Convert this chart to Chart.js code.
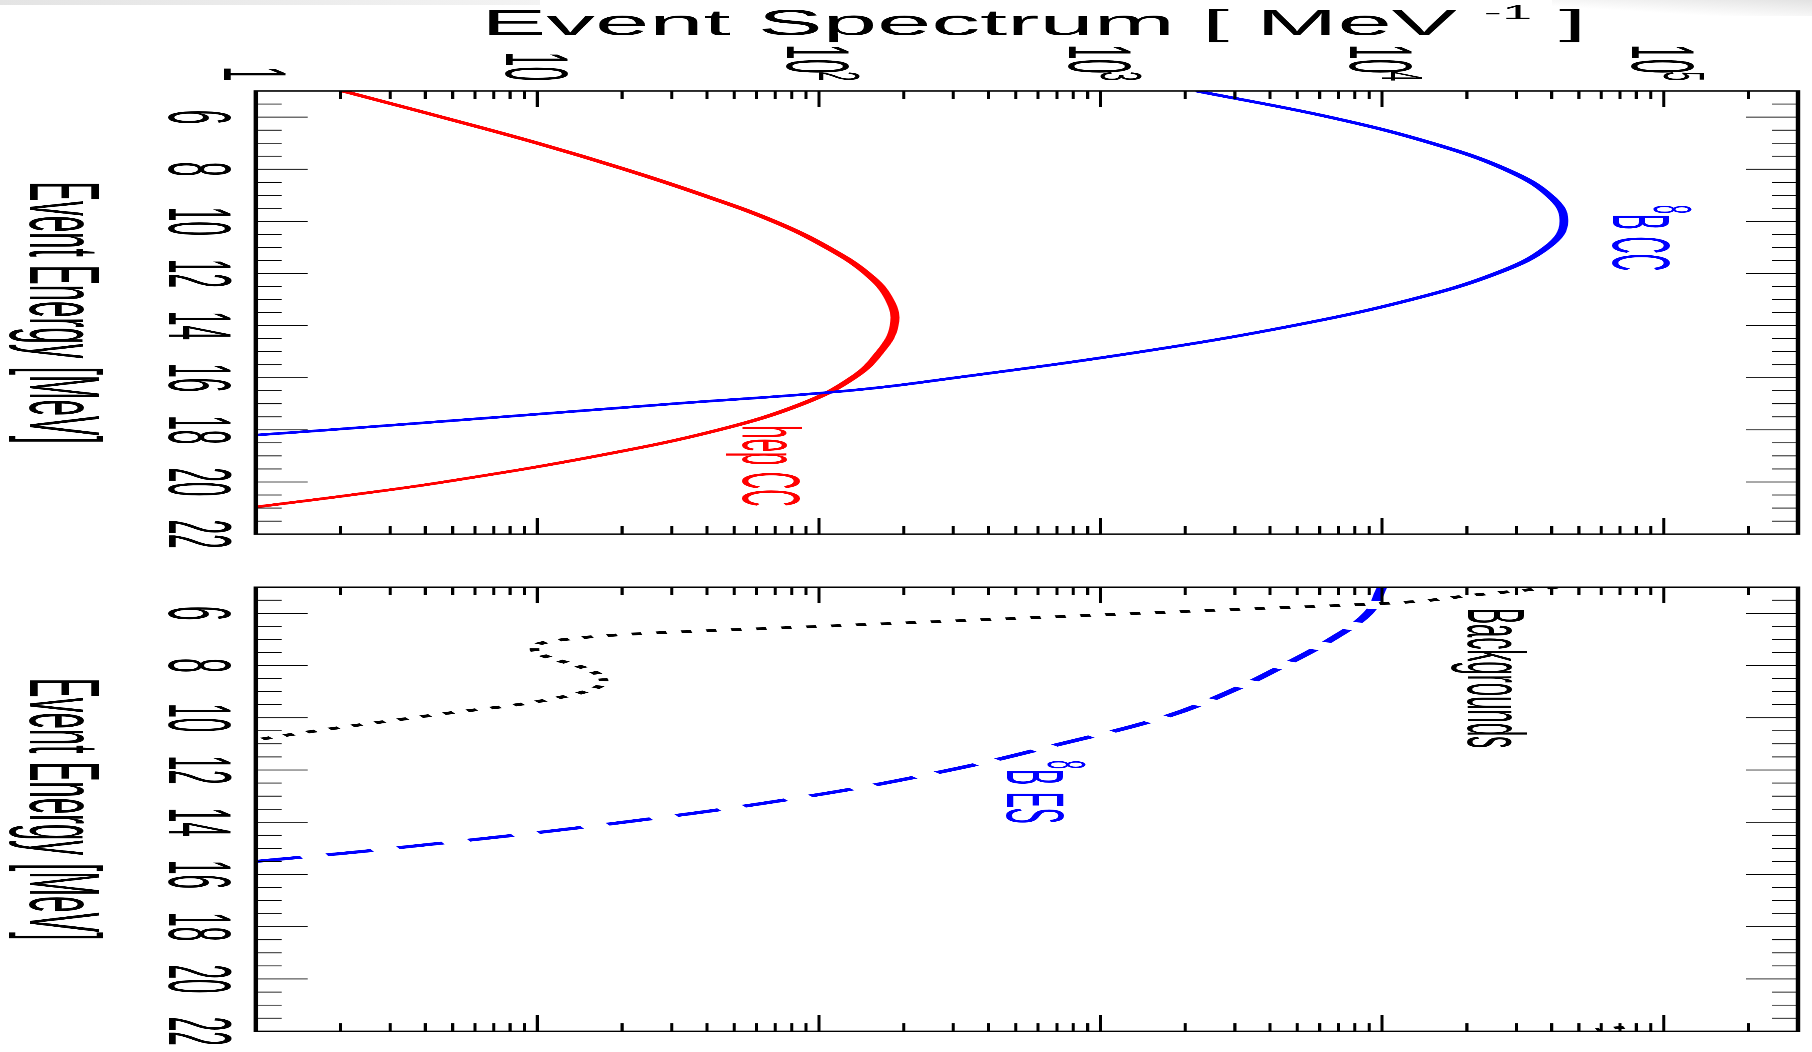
<!DOCTYPE html>
<html>
<head>
<meta charset="utf-8">
<title>Event spectra</title>
<script src="https://cdn.jsdelivr.net/npm/chart.js@4.4.1/dist/chart.umd.min.js"></script>
<style>
  html, body { margin: 0; padding: 0; background: #fff; overflow: hidden; }
  body { width: 1812px; height: 1052px; position: relative; }
  /* the plot is laid out portrait, squeezed, then turned onto its side */
  #stage {
    position: absolute; left: 0; top: 0;
    width: 1052px; height: 533px;
    transform-origin: 0 0;
    transform: translate(1812px, 0) rotate(90deg) scale(1, 3.39962);
  }
  #stage canvas { position: absolute; left: 0; top: 0; }
  .shade { position: absolute; pointer-events: none; }
</style>
</head>
<body>
<div class="shade" style="left:0;top:0;width:540px;height:5px;background:linear-gradient(to right,#e4e4e4,#f3f3f3);"></div>
<div class="shade" style="right:0;top:0;width:260px;height:16px;background:linear-gradient(to bottom left,#e2e2e2,rgba(255,255,255,0) 70%);"></div>
<div id="stage">
  <canvas id="ccPanel" width="1052" height="533"></canvas>
  <canvas id="esPanel" width="1052" height="533"></canvas>
</div>
<script>
// Axis ranges and tick labels
const energyRange = [5, 22];
const spectrumRange = [1, 3e5];
const energyTickLabels = [6, 8, 10, 12, 14, 16, 18, 20, 22];
const spectrumTicks = [1, 10, 100, 1000, 10000, 100000];
const spectrumTickLabels = ['1', '10', '10^2', '10^3', '10^4', '10^5'];

// 8B charged current
const b8ccEnergy = [5, 6, 7, 8, 9, 10, 11, 12, 13, 14, 15, 16, 16.5, 17, 17.5, 18, 18.2];
const b8ccRate = [2200, 6500, 15000, 27400, 39200, 44200, 38500, 25400, 12700, 4840, 1400, 305, 126, 30.2, 7.52, 1.82, 1];

// hep charged current
const hepEnergy = [5, 6, 7, 8, 9, 10, 11, 12, 13, 14, 15, 16, 17, 18, 19, 20, 20.5, 20.96];
const hepRate = [2.04, 4.57, 10.0, 20.4, 38.9, 69.2, 107, 148, 178, 185, 165, 132, 87.3, 44.1, 16.3, 4.65, 2.17, 1];

// 8B elastic scattering
const b8esEnergy = [5, 6, 7, 8, 9, 10, 11, 12, 13, 14, 15, 15.5];
const b8esRate = [10000, 8910, 6610, 4470, 2880, 1660, 724, 292, 92.3, 20.2, 3.05, 1];

// backgrounds (null breaks the line)
const bkgEnergy = [5.0, 5.3, 5.6, 5.9, 6.2, 6.5, 6.8, 7.0, 7.2, 7.4, 7.7, 8.0, 8.3, 8.6, 8.9, 9.2, 9.5, 9.8, 10.1, 10.4, 10.7, 10.85, 15, 21.85, 21.93];
const bkgRate = [41700, 21400, 11200, 2340, 490, 102, 21.4, 12.6, 10.0, 9.77, 11.0, 13.8, 16.2, 17.2, 15.8, 12.3, 8.51, 5.01, 3.09, 1.91, 1.23, 1, null, 72400, 57500];

const RED = '#ff0000';
const BLUE = '#0000ff';
const FONT = '"Liberation Sans", Arial, Helvetica, sans-serif';
const STRETCH = 1812 / 533;

function font(size) {
  return size + 'px ' + FONT;
}

function series(energy, rate) {
  return energy.map((e, i) => ({ x: e, y: rate[i] }));
}

// frame, inside ticks, tick labels, titles and curve names
const panelDecor = {
  id: 'panelDecor',
  afterDatasetsDraw(chart, args, opts) {
    const { ctx, chartArea: area, scales: { x, y } } = chart;
    ctx.save();
    ctx.strokeStyle = '#000';
    ctx.fillStyle = '#000';

    ctx.lineWidth = 0.9;
    ctx.beginPath();
    for (let e = 5.5; e < 22; e += 0.5) {
      const px = x.getPixelForValue(e);
      const len = e % 2 === 0 ? 15.3 : 7.65;
      ctx.moveTo(px, area.bottom);
      ctx.lineTo(px, area.bottom - len);
      ctx.moveTo(px, area.top);
      ctx.lineTo(px, area.top + len);
    }
    for (let n = 0; n <= 5; n++) {
      for (let m = 1; m <= 9; m++) {
        const v = m * Math.pow(10, n);
        if (v <= spectrumRange[0] || v >= spectrumRange[1]) continue;
        const py = y.getPixelForValue(v);
        const len = m === 1 ? 16 : 8;
        ctx.moveTo(area.left, py);
        ctx.lineTo(area.left + len, py);
        ctx.moveTo(area.right, py);
        ctx.lineTo(area.right - len, py);
      }
    }
    ctx.stroke();

    ctx.lineWidth = 1.3;
    ctx.strokeRect(area.left, area.top, area.right - area.left, area.bottom - area.top);

    // energy axis
    ctx.textBaseline = 'alphabetic';
    ctx.textAlign = 'center';
    ctx.font = font(26);
    energyTickLabels.forEach(e => {
      ctx.fillText(String(e), x.getPixelForValue(e), area.bottom + 25.4);
    });
    ctx.font = font(29.5);
    ctx.fillText('Event Energy [MeV]', (area.left + area.right) / 2, area.bottom + 66.4);

    if (opts.spectrumAxis) {
      ctx.textAlign = 'left';
      const right = area.left - 10;
      spectrumTicks.forEach((v, i) => {
        const [base, sup] = spectrumTickLabels[i].split('^');
        const py = y.getPixelForValue(v);
        ctx.font = font(17);
        const sw = sup ? ctx.measureText(sup).width : 0;
        ctx.font = font(26);
        const bw = ctx.measureText(base).width;
        const bx = sup ? right - sw + 2 - bw : right - bw;
        ctx.fillText(base, bx, py + 9.3);
        if (sup) {
          ctx.font = font(17);
          ctx.fillText(sup, right - sw, py);
        }
      });

      // rotated spectrum title, fitted to its length
      const parts = [
        { t: 'Event Spectrum [ MeV ', size: 36, rise: 0 },
        { t: '-1', size: 20, rise: -16 },
        { t: ' ]', size: 36, rise: 0 }
      ];
      let total = 0;
      parts.forEach(p => { ctx.font = font(p.size); p.w = ctx.measureText(p.t).width; total += p.w; });
      ctx.save();
      ctx.translate(35, (area.top + area.bottom) / 2 - 2);
      ctx.rotate(-Math.PI / 2);
      ctx.scale(325 / total, 1);
      let tx = -total / 2;
      parts.forEach(p => {
        ctx.font = font(p.size);
        ctx.fillText(p.t, tx, p.rise);
        tx += p.w;
      });
      ctx.restore();
    }

    (opts.labels || []).forEach(l => {
      let px = x.getPixelForValue(l.e);
      const py = y.getPixelForValue(l.v);
      ctx.fillStyle = l.color;
      ctx.textAlign = 'left';
      if (l.sup) {
        ctx.font = font(15.6);
        ctx.fillText(l.sup, px, py - 12);
        px += ctx.measureText(l.sup).width;
      }
      ctx.font = font(24);
      ctx.fillText(l.text, px, py);
    });
    ctx.restore();
  }
};

function makePanel(id, datasets, padding, decor) {
  return new Chart(document.getElementById(id), {
    type: 'line',
    data: { datasets: datasets },
    options: {
      responsive: false,
      animation: false,
      devicePixelRatio: 3.4,
      layout: { padding: padding },
      elements: { point: { radius: 0 }, line: { fill: false, tension: 0.4 } },
      plugins: {
        legend: { display: false },
        tooltip: { enabled: false },
        panelDecor: decor
      },
      scales: {
        x: { type: 'linear', min: energyRange[0], max: energyRange[1], display: false },
        y: { type: 'logarithmic', min: spectrumRange[0], max: spectrumRange[1], display: false }
      }
    },
    plugins: [panelDecor]
  });
}

const padTop = 14 / STRETCH;
const padBottom = 533 - 1556 / STRETCH;

document.addEventListener('DOMContentLoaded', function () {
  makePanel('ccPanel', [
    { data: series(b8ccEnergy, b8ccRate), borderColor: BLUE, borderWidth: 2.6 },
    { data: series(hepEnergy, hepRate), borderColor: RED, borderWidth: 2.6 }
  ], { left: 91, right: 518, top: padTop, bottom: padBottom }, {
    spectrumAxis: true,
    labels: [
      { e: 9.375, v: 66000, sup: '8', text: 'B CC', color: BLUE },
      { e: 17.82, v: 53.7, sup: '', text: 'hep CC', color: RED }
    ]
  });

  makePanel('esPanel', [
    { data: series(bkgEnergy, bkgRate), borderColor: '#000', borderWidth: 2.8, borderDash: [3, 4.4], cubicInterpolationMode: 'monotone' },
    { data: series(b8esEnergy, b8esRate), borderColor: BLUE, borderWidth: 3, borderDash: [14, 8] }
  ], { left: 587, right: 21, top: padTop, bottom: padBottom }, {
    spectrumAxis: false,
    labels: [
      { e: 5.8, v: 20200, sup: '', text: 'Backgrounds', color: '#000' },
      { e: 11.63, v: 466, sup: '8', text: 'B ES', color: BLUE }
    ]
  });
});
</script>
</body>
</html>
